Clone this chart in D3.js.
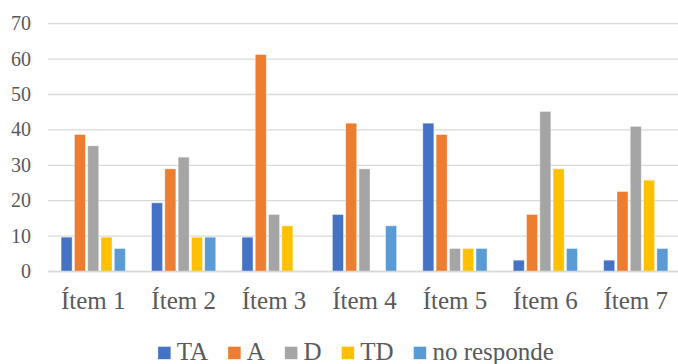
<!DOCTYPE html>
<html>
<head>
<meta charset="utf-8">
<script src="https://cdn.jsdelivr.net/npm/d3@7"></script>
</head>
<body style="margin:0;background:#fff">
<svg id="chart" width="678" height="364" font-family="Liberation Serif" style="display:block"></svg>
<script>
// Survey answers per item (percent of respondents)
const categories = ["Ítem 1", "Ítem 2", "Ítem 3", "Ítem 4", "Ítem 5", "Ítem 6", "Ítem 7"];
const seriesNames = ["TA", "A", "D", "TD", "no responde"];
const seriesColors = ["#4472C4", "#ED7D31", "#A5A5A5", "#FFC000", "#5B9BD5"];
const valuesTA = [9.7, 19.4, 9.7, 16.1, 41.9, 3.2, 3.2];
const valuesA = [38.7, 29.0, 61.3, 41.9, 38.7, 16.1, 22.6];
const valuesD = [35.5, 32.3, 16.1, 29.0, 6.5, 45.2, 41.0];
const valuesTD = [9.7, 9.7, 12.9, 0, 6.5, 29.0, 25.8];
const valuesNR = [6.5, 9.7, 0, 12.9, 6.5, 6.5, 6.5];
const yTicks = [0, 10, 20, 30, 40, 50, 60, 70];

const seriesValues = [valuesTA, valuesA, valuesD, valuesTD, valuesNR];
const TEXT_COLOR = "#595959";

const svg = d3.select("#chart");
const plot = { left: 48, right: 681, top: 23.7, bottom: 271.5 };

const x0 = d3.scaleBand().domain(categories).range([plot.left, plot.right]).padding(0);
const x1 = d3.scaleBand().domain(seriesNames).range([0, x0.bandwidth()])
  .paddingInner(0.17).paddingOuter(0.985);
const y = d3.scaleLinear().domain([0, 70]).range([plot.bottom, plot.top]);

// Horizontal gridlines
svg.append("g")
  .selectAll("line")
  .data(yTicks)
  .join("line")
  .attr("x1", plot.left)
  .attr("x2", 678)
  .attr("y1", d => y(d))
  .attr("y2", d => y(d))
  .attr("stroke", "#d9d9d9")
  .attr("stroke-width", 1.3);

// Y axis labels
const yAxis = d3.axisLeft(y).tickValues(yTicks).tickSize(0).tickPadding(0);
const gy = svg.append("g").attr("transform", "translate(31,0)").call(yAxis)
  .attr("font-family", "Liberation Serif").attr("font-size", 20);
gy.select(".domain").remove();
gy.selectAll("text")
  .attr("dy", "0.3em")
  .attr("fill", TEXT_COLOR);

// Bars
const rows = categories.map((c, i) => ({ cat: c, vals: seriesNames.map((s, k) => ({ s, k, v: seriesValues[k][i] })) }));
svg.append("g")
  .selectAll("g")
  .data(rows)
  .join("g")
  .attr("transform", d => `translate(${x0(d.cat)},0)`)
  .selectAll("rect")
  .data(d => d.vals.filter(e => e.v > 0))
  .join("rect")
  .attr("x", d => x1(d.s))
  .attr("width", x1.bandwidth())
  .attr("y", d => y(d.v))
  .attr("height", d => y(0) - y(d.v))
  .attr("fill", d => seriesColors[d.k])
  .attr("stroke", "#ffffff")
  .attr("stroke-opacity", 0.5)
  .attr("stroke-width", 0.8);

// Baseline redrawn over bar bottoms
svg.append("line")
  .attr("x1", plot.left).attr("x2", 678)
  .attr("y1", y(0)).attr("y2", y(0))
  .attr("stroke", "#d9d9d9").attr("stroke-width", 1.3);

// X axis labels
const xAxis = d3.axisBottom(x0).tickSize(0).tickPadding(0);
const gx = svg.append("g").attr("transform", "translate(0,309)").call(xAxis)
  .attr("font-family", "Liberation Serif").attr("font-size", 25);
gx.select(".domain").remove();
gx.selectAll("text")
  .attr("dy", 0)
  .attr("fill", TEXT_COLOR);

// Legend
const legend = svg.append("g").attr("font-family", "Liberation Serif").attr("font-size", 25);
const items = legend.selectAll("g").data(seriesNames).join("g");
items.append("rect")
  .attr("width", 12.5).attr("height", 12.5)
  .attr("y", -13.3)
  .attr("fill", (d, i) => seriesColors[i]);
items.append("text")
  .attr("x", 18.7)
  .attr("y", 0)
  .attr("fill", TEXT_COLOR)
  .text(d => d);
const gap = 20;
const widths = items.nodes().map(n => n.getBBox().width);
const total = d3.sum(widths) + gap * (widths.length - 1);
let start = 356 - total / 2;
items.attr("transform", (d, i) => {
  const t = `translate(${start},360)`;
  start += widths[i] + gap;
  return t;
});
</script>
</body>
</html>
